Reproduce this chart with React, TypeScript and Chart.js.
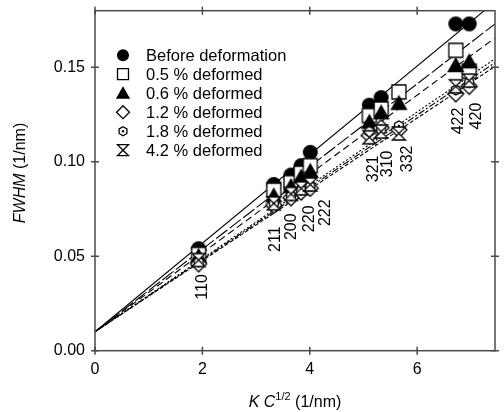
import React, { useEffect, useRef } from 'react';
import { Chart, registerables } from 'chart.js';

Chart.register(...registerables);

// ---------- data ----------
const reflections = ['110', '211', '200', '220', '222', '321', '310', '332', '422', '420'];
const kc = [1.93, 3.33, 3.65, 3.84, 4.01, 5.11, 5.33, 5.66, 6.72, 6.97];

const before = [0.054, 0.088, 0.093, 0.098, 0.105, 0.130, 0.134, null, 0.173, 0.173];
const def05 = [0.051, 0.085, 0.089, 0.094, 0.098, 0.1245, 0.128, 0.137, 0.159, 0.148];
const def06 = [0.050, 0.082, 0.087, 0.092, 0.095, 0.121, 0.126, 0.131, 0.151, 0.153];
const def12 = [0.046, 0.077, 0.081, 0.084, 0.086, 0.114, 0.118, 0.117, 0.136, 0.140];
const def18 = [0.047, 0.078, 0.082, 0.085, 0.087, 0.116, 0.117, 0.119, 0.138, 0.142];
const def42 = [0.048, 0.078, 0.083, 0.086, 0.088, 0.113, 0.116, 0.115, 0.140, 0.143];

const seriesNames = [
  'Before deformation',
  '0.5 % deformed',
  '0.6 % deformed',
  '1.2 % deformed',
  '1.8 % deformed',
  '4.2 % deformed',
];

// fitted straight lines: values at the two ends of the x range
const fitX = [0, 7.45];
const fitBefore = [0.01, 0.1847];
const fit05 = [0.01, 0.173];
const fit06 = [0.01, 0.1656];
const fit12 = [0.01, 0.1505];
const fit18 = [0.01, 0.1525];
const fit42 = [0.01, 0.1545];

// reflection annotations (data coordinates of label centre x / upper end)
const labelX = [2.01, 3.37, 3.67, 3.99, 4.3, 5.18, 5.45, 5.82, 6.77, 7.1];
const labelTop = [0.0405, 0.0658, 0.0727, 0.0769, 0.0801, 0.1033, 0.106, 0.1086, 0.1287, 0.1313];

const xTicks = [0, 2, 4, 6];
const yTicks = [0, 0.05, 0.1, 0.15];

const FONT = '"Liberation Sans", Arial, Helvetica, sans-serif';

// ---------- markers ----------
type Kind = 'circle' | 'square' | 'triangle' | 'diamond' | 'hex' | 'hourglass';
const kinds: Kind[] = ['circle', 'square', 'triangle', 'diamond', 'hex', 'hourglass'];
const plotSizes = [15, 14, 15, 16, 10, 13];
const legendSizes = [12, 11, 12, 13, 9, 11];

function drawMarker(ctx: CanvasRenderingContext2D, kind: Kind, cx: number, cy: number, s: number) {
  const h = s / 2;
  ctx.save();
  ctx.lineWidth = 1.3;
  ctx.strokeStyle = '#000';
  ctx.fillStyle = '#fff';
  ctx.lineJoin = 'miter';
  ctx.beginPath();
  if (kind === 'circle') {
    ctx.arc(cx, cy, h, 0, Math.PI * 2);
    ctx.fillStyle = '#000';
    ctx.fill();
  } else if (kind === 'square') {
    ctx.rect(cx - h, cy - h, s, s);
    ctx.fill();
    ctx.stroke();
  } else if (kind === 'triangle') {
    ctx.moveTo(cx, cy - h * 0.95);
    ctx.lineTo(cx + h, cy + h * 0.8);
    ctx.lineTo(cx - h, cy + h * 0.8);
    ctx.closePath();
    ctx.fillStyle = '#000';
    ctx.fill();
    ctx.stroke();
  } else if (kind === 'diamond') {
    ctx.moveTo(cx, cy - h);
    ctx.lineTo(cx + h, cy);
    ctx.lineTo(cx, cy + h);
    ctx.lineTo(cx - h, cy);
    ctx.closePath();
    ctx.fill();
    ctx.stroke();
  } else if (kind === 'hex') {
    for (let k = 0; k < 6; k++) {
      const a = -Math.PI / 2 + (k * Math.PI) / 3;
      const px = cx + h * Math.cos(a);
      const py = cy + h * Math.sin(a);
      if (k === 0) ctx.moveTo(px, py);
      else ctx.lineTo(px, py);
    }
    ctx.closePath();
    ctx.fill();
    ctx.stroke();
    ctx.beginPath();
    ctx.arc(cx, cy, 1.2, 0, Math.PI * 2);
    ctx.fillStyle = '#000';
    ctx.fill();
  } else if (kind === 'hourglass') {
    ctx.moveTo(cx - h, cy - h);
    ctx.lineTo(cx + h, cy - h);
    ctx.lineTo(cx - h, cy + h);
    ctx.lineTo(cx + h, cy + h);
    ctx.closePath();
    ctx.fill();
    ctx.stroke();
  }
  ctx.restore();
}

function makeMarker(kind: Kind, size: number): HTMLCanvasElement {
  const n = Math.ceil(size + 6);
  const c = document.createElement('canvas');
  c.width = n;
  c.height = n;
  const ctx = c.getContext('2d')!;
  drawMarker(ctx, kind, n / 2, n / 2, size);
  return c;
}

// ---------- overlay plugin: frame, ticks, titles, annotations, legend ----------
const overlay = {
  id: 'overlay',
  afterDraw(chart: any) {
    const { ctx, chartArea: a, scales } = chart;
    const xs = scales.x;
    const ys = scales.y;
    ctx.save();

    // frame
    ctx.strokeStyle = '#4a4a4a';
    ctx.lineWidth = 1.5;
    ctx.strokeRect(a.left, a.top, a.right - a.left, a.bottom - a.top);
    // ticks crossing the frame
    ctx.beginPath();
    const t = 4;
    xTicks.forEach((v) => {
      const px = xs.getPixelForValue(v);
      ctx.moveTo(px, a.bottom - t);
      ctx.lineTo(px, a.bottom + t);
      ctx.moveTo(px, a.top - t);
      ctx.lineTo(px, a.top + t);
    });
    yTicks.forEach((v) => {
      const py = ys.getPixelForValue(v);
      ctx.moveTo(a.left - t, py);
      ctx.lineTo(a.left + t, py);
      ctx.moveTo(a.right - t, py);
      ctx.lineTo(a.right + t, py);
    });
    ctx.stroke();

    ctx.fillStyle = '#000';

    // y title
    ctx.save();
    ctx.translate(25, 173);
    ctx.rotate(-Math.PI / 2);
    ctx.textBaseline = 'alphabetic';
    const yi = 'italic 16px ' + FONT;
    const yn = '16px ' + FONT;
    ctx.font = yi;
    const w1 = ctx.measureText('FWHM').width;
    ctx.font = yn;
    const w2 = ctx.measureText(' (1/nm)').width;
    const sx = -(w1 + w2) / 2;
    ctx.font = yi;
    ctx.textAlign = 'left';
    ctx.fillText('FWHM', sx, 0);
    ctx.font = yn;
    ctx.fillText(' (1/nm)', sx + w1, 0);
    ctx.restore();

    // x title
    ctx.save();
    const parts: [string, string, number][] = [
      ['K', 'italic 16px ' + FONT, 0],
      [' ', '16px ' + FONT, 0],
      ['C', 'italic 16px ' + FONT, 0],
      ['1/2', '11px ' + FONT, -7],
      [' (1/nm)', '16px ' + FONT, 0],
    ];
    let total = 0;
    parts.forEach(([s, f]) => {
      ctx.font = f;
      total += ctx.measureText(s).width;
    });
    let px0 = (a.left + a.right) / 2 - total / 2;
    ctx.textAlign = 'left';
    ctx.textBaseline = 'alphabetic';
    parts.forEach(([s, f, dy]) => {
      ctx.font = f;
      ctx.fillText(s, px0, 407 + dy);
      px0 += ctx.measureText(s).width;
    });
    ctx.restore();

    // reflection labels
    ctx.save();
    ctx.font = '16px ' + FONT;
    ctx.textAlign = 'right';
    ctx.textBaseline = 'middle';
    reflections.forEach((r, i) => {
      const px = xs.getPixelForValue(labelX[i]);
      const py = ys.getPixelForValue(labelTop[i]);
      ctx.save();
      ctx.translate(px, py);
      ctx.rotate(-Math.PI / 2);
      ctx.fillText(r, 0, 0);
      ctx.restore();
    });
    ctx.restore();

    // legend
    ctx.save();
    ctx.font = '16.5px ' + FONT;
    ctx.textAlign = 'left';
    ctx.textBaseline = 'middle';
    seriesNames.forEach((name, i) => {
      const y = a.top + 44.5 + i * 19;
      drawMarker(ctx, kinds[i], a.left + 28, y, legendSizes[i]);
      ctx.fillStyle = '#000';
      ctx.fillText(name, a.left + 51, y + 1);
    });
    ctx.restore();

    ctx.restore();
  },
};

function pts(vals: (number | null)[]) {
  return kc
    .map((x, i) => ({ x, y: vals[i] }))
    .filter((p) => p.y !== null) as { x: number; y: number }[];
}
function linePts(vals: number[]) {
  return fitX.map((x, i) => ({ x, y: vals[i] }));
}

export default function App() {
  const ref = useRef<HTMLCanvasElement | null>(null);

  useEffect(() => {
    document.body.style.margin = '0';
    const canvas = ref.current!;
    const seriesVals = [before, def05, def06, def12, def18, def42];
    const markerSets = seriesVals.map((vals, i) => ({
      label: seriesNames[i],
      data: pts(vals),
      pointStyle: makeMarker(kinds[i], plotSizes[i]),
      pointRadius: 8,
      showLine: false,
      order: 6 - i,
    }));
    const lineStyle = (vals: number[], dash: number[]) => ({
      label: '',
      data: linePts(vals),
      showLine: true,
      pointRadius: 0,
      borderColor: '#000',
      borderWidth: 1.1,
      borderDash: dash,
      order: 20,
    });
    const lineSets = [
      lineStyle(fitBefore, []),
      lineStyle(fit05, [14, 3]),
      lineStyle(fit06, [7, 4]),
      lineStyle(fit12, [4, 2]),
      lineStyle(fit18, [7, 2, 2, 2]),
      lineStyle(fit42, [2, 2]),
    ];

    const chart = new Chart(canvas, {
      type: 'scatter',
      data: { datasets: [...lineSets, ...markerSets] as any },
      plugins: [overlay],
      options: {
        responsive: false,
        animation: false,
        events: [],
        layout: { padding: { top: 10.7, right: 1, left: 0, bottom: 0 } },
        plugins: { legend: { display: false }, tooltip: { enabled: false } },
        scales: {
          x: {
            type: 'linear',
            min: 0,
            max: 7.45,
            grid: { display: false, drawTicks: false },
            border: { display: false },
            ticks: { color: '#000', font: { size: 16, family: FONT }, padding: 9 },
            afterBuildTicks: (s: any) => {
              s.ticks = xTicks.map((v) => ({ value: v }));
            },
            afterFit: (s: any) => {
              s.height = 61.3;
              s.paddingLeft = 0;
              s.paddingRight = 0;
            },
          },
          y: {
            type: 'linear',
            min: 0,
            max: 0.18,
            grid: { display: false, drawTicks: false },
            border: { display: false },
            ticks: {
              color: '#000',
              font: { size: 16, family: FONT },
              padding: 10,
              callback: (v: any) => Number(v).toFixed(2),
            },
            afterBuildTicks: (s: any) => {
              s.ticks = yTicks.map((v) => ({ value: v }));
            },
            afterFit: (s: any) => {
              s.width = 95;
              s.paddingTop = 0;
              s.paddingBottom = 0;
            },
          },
        },
      } as any,
    });
    return () => chart.destroy();
  }, []);

  return (
    <div style={{ position: 'fixed', left: 0, top: 0, width: 504, height: 412 }}>
      <canvas ref={ref} width={504} height={412} style={{ display: 'block' }} />
    </div>
  );
}
